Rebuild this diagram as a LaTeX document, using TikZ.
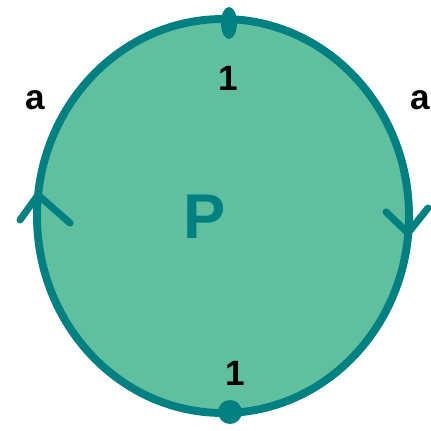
\documentclass[tikz,border=0pt]{standalone}
\usepackage{fontspec}
\setmainfont{Liberation Sans}
\usepackage{xcolor}
\usepackage{tikz}
\usetikzlibrary{arrows.meta, positioning, calc}
\definecolor{pteal}{RGB}{0,128,128}
\definecolor{pgreen}{RGB}{96,191,159}

\begin{document}
\begin{tikzpicture}[font=\fontsize{20}{22}\selectfont\bfseries]
  \useasboundingbox (0,0) rectangle (8.62,8.62);
  \def\RX{3.72}
  \def\RY{3.94}
  \coordinate (c) at (4.46,4.30);
  \filldraw[fill=pgreen,draw=pteal,line width=4.5pt] (c) ellipse ({\RX} and {\RY});
  % vertices
  \fill[pteal] (4.58,8.16) ellipse (0.16 and 0.32);
  \fill[pteal] (4.60,0.38) circle (0.24);
  % edge directions
  \draw[pteal,line width=4pt,line cap=round,line join=round] (0.40,4.22) -- (0.76,4.72) -- (1.40,4.16);
  \draw[pteal,line width=4pt,line cap=round,line join=round] (7.72,4.38) -- (8.16,3.96) -- (8.56,4.46);
  % labels
  \node (aleft) at (0.70,6.62) {a};
  \node (aright) at (8.40,6.62) {a};
  \node (onetop) at (4.56,7.06) {1};
  \node (onebot) at (4.70,1.16) {1};
  \node[text=pteal,font=\fontsize{36}{40}\selectfont\bfseries] (face) at (4.10,4.28) {P};
\end{tikzpicture}
\end{document}
